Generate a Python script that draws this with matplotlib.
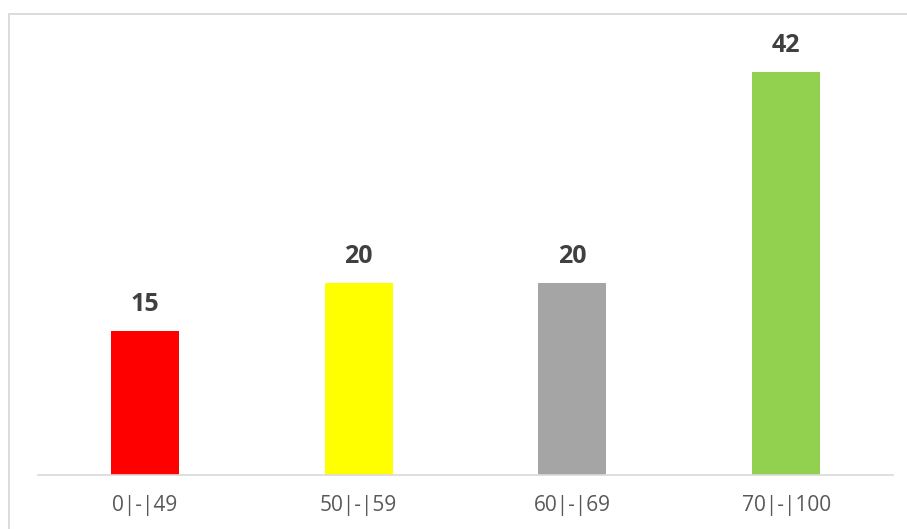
import matplotlib
matplotlib.use("Agg")
import matplotlib.pyplot as plt
from matplotlib.patches import Rectangle

categories = ["0|-|49", "50|-|59", "60|-|69", "70|-|100"]
values = [15, 20, 20, 42]
colors = ["#FF0000", "#FFFF00", "#A5A5A5", "#92D050"]

W, H = 907, 529
fig = plt.figure(figsize=(W / 100, H / 100), dpi=100)
plt.rcParams["font.family"] = ["Open Sans", "DejaVu Sans"]

# chart frame (cropped: right and bottom edges fall outside the image)
fig.patches.append(Rectangle((9 / W, -0.1), 1.2, (H - 14) / H + 0.1,
                             transform=fig.transFigure, fill=False,
                             edgecolor="#D9D9D9", lw=1.3))

ax = fig.add_axes([38 / W, (H - 474.5) / H, 855 / W, 431.2 / H])
x = range(len(categories))
ax.bar(x, values, width=0.318, color=colors, zorder=2)
for xi, v in zip(x, values):
    ax.annotate(str(v), (xi, v), xytext=(0, 10), textcoords="offset points",
                ha="center", va="bottom", fontsize=18, fontweight="bold",
                color="#404040")

ax.set_xlim(-0.5, len(categories) - 0.5)
ax.set_ylim(0, 45)
ax.set_xticks(list(x))
ax.set_xticklabels(categories, fontsize=15, color="#595959")
ax.tick_params(axis="x", length=0, pad=15)
ax.set_yticks([])
for s in ["top", "right", "left"]:
    ax.spines[s].set_visible(False)
ax.spines["bottom"].set_color("#D9D9D9")
ax.spines["bottom"].set_linewidth(1.2)

fig.savefig("out.png", dpi=100)
